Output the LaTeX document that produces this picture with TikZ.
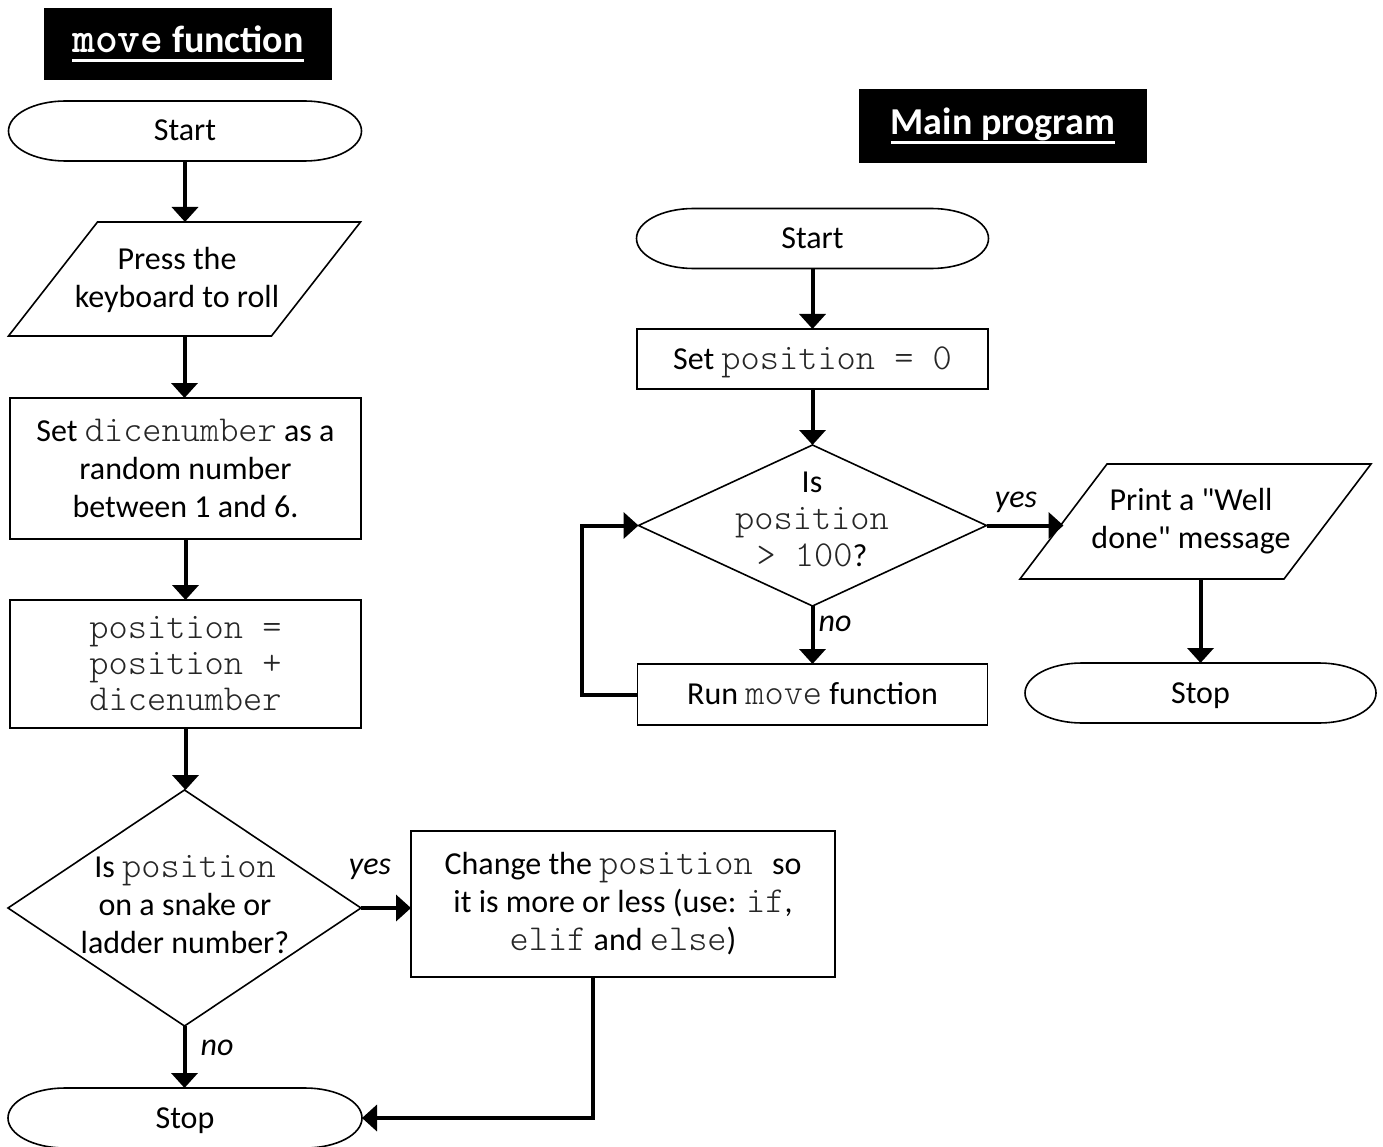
\documentclass[tikz,border=0pt]{standalone}
\usepackage{fontspec}
\setmainfont{Carlito}[Ligatures=TeXOff]
\setmonofont{lmmonolt10-regular.otf}[Scale=1.143, BoldFont=lmmonolt10-bold.otf]
\usetikzlibrary{arrows.meta,shapes.geometric}
\newcommand\myul[1]{\setbox0=\hbox{#1}\rlap{\rule[-9pt]{\wd0}{2.8pt}}\box0}
\newcommand\mono[1]{{\ttfamily\color{black!85}#1}}
\newcommand\drawterm[1]{\draw[outline] ([xshift=57pt]#1.north west) -- ([xshift=-57pt]#1.north east) arc[start angle=90,end angle=-90,x radius=57pt,y radius=30pt] -- ([xshift=57pt]#1.south west) arc[start angle=270,end angle=90,x radius=57pt,y radius=30pt] -- cycle;}
\newcommand\drawpara[2]{\draw[outline] ([xshift=#2]#1.north west) -- ([xshift=#2]#1.north east) -- ([xshift=-#2]#1.south east) -- ([xshift=-#2]#1.south west) -- cycle;}
\begin{document}
\begin{tikzpicture}[x=1pt,y=-1pt,
 outline/.style={line width=1.6pt, line join=miter},
 txt/.style={font=\fontsize{32}{38}\selectfont, inner sep=0pt, align=center},
 one/.style={text height=20pt, text depth=0pt},
 frame/.style={txt, draw, outline, outer sep=0pt},
 ghost/.style={txt, outer sep=0pt},
 diam/.style={diamond, draw, outline, inner sep=0pt, outer sep=0pt},
 title/.style={fill=black, text=white, inner sep=0pt, outer sep=0pt, font=\fontsize{38}{42}\selectfont\bfseries},
 conn/.style={line width=4pt, -{Triangle[length=15pt,width=26pt]}},
 lbl/.style={font=\fontsize{32}{38}\selectfont\itshape, inner sep=0pt}]
\useasboundingbox (0,0) rectangle (1383,1147);
% ---------- move function ----------
\node[title, minimum width=288pt, minimum height=72pt] (t1) at (188,44) {\myul{{\ttfamily move} function}};
\node[ghost, one, minimum width=353pt, minimum height=60pt] (s1) at (185,131) {Start};
\drawterm{s1}
\node[ghost, minimum width=263pt, minimum height=114pt] (p1) at (184.5,279) {};
\drawpara{p1}{44.5pt}
\node[txt] (p1t) at (177,280) {Press the\\keyboard to roll};
\node[frame, minimum width=351pt, minimum height=141pt] (b1) at (185.5,468.5) {Set \mono{dicenumber} as a\\random number\\between 1 and 6.};
\node[frame, minimum width=351pt, minimum height=128pt, font=\fontsize{32}{36}\selectfont\ttfamily\color{black!85}] (b2) at (185.5,664) {position =\\position +\\dicenumber};
\node[diam, minimum width=353pt, minimum height=236pt] (d1) at (184.5,908) {};
\node[txt] (d1t) at (185,905) {Is \mono{position}\\on a snake or\\ladder number?};
\node[frame, minimum width=424pt, minimum height=146pt] (chg) at (623,904) {Change the \mono{ position }so\\it is more or less (use: \mono{ if},\\\mono{elif} and \mono{else})};
\node[ghost, one, minimum width=354pt, minimum height=60pt] (stop1) at (185,1118) {Stop};
\drawterm{stop1}
\node[lbl] (yes1) at (370,869) {yes};
\node[lbl] (no1) at (217,1048) {no};
\draw[conn] (s1.south) -- (s1.south |- p1.north);
\draw[conn] (p1.south) -- (p1.south |- b1.north);
\draw[conn] (b1.south) -- (b1.south |- b2.north);
\draw[conn] (b2.south) -- (b2.south |- d1.north);
\draw[conn] (d1.east) -- (chg.west |- d1.east);
\draw[conn] (d1.south) -- (d1.south |- stop1.north);
\draw[conn] ([xshift=-30pt]chg.south) |- (stop1.east);
% ---------- main program ----------
\node[title, minimum width=288pt, minimum height=74pt] (t2) at (1003,126) {\myul{Main program}};
\node[ghost, one, minimum width=352pt, minimum height=60pt] (s2) at (812.5,238.5) {Start};
\drawterm{s2}
\node[frame, one, minimum width=351pt, minimum height=60pt] (b3) at (812.5,359) {Set \mono{position = 0}};
\node[diam, minimum width=348pt, minimum height=161pt] (d2) at (812.5,525.5) {};
\node[txt, font=\fontsize{32}{37}\selectfont] (d2t) at (812,519) {Is\\\mono{position}\\\mono{> 100}?};
\node[frame, one, minimum width=350pt, minimum height=61pt] (run) at (812.5,694.5) {Run \mono{move} function};
\node[ghost, minimum width=264pt, minimum height=115pt] (p2) at (1195.5,521.5) {};
\drawpara{p2}{43.5pt}
\node[txt] (p2t) at (1191,521) {Print a "Well\\done" message};
\node[ghost, one, minimum width=351pt, minimum height=60pt] (stop2) at (1200.5,693) {Stop};
\drawterm{stop2}
\node[lbl] (yes2) at (1016,502) {yes};
\node[lbl] (no2) at (835,624) {no};
\draw[conn] (s2.south) -- (b3.north);
\draw[conn] (b3.south) -- (d2.north);
\draw[conn] (d2.south) -- (run.north);
\draw[conn] (d2.east) -- (p2.west |- d2.east);
\draw[conn] (run.west) -- ++(-56,0) |- (d2.west);
\draw[conn] (p2.south -| stop2.north) -- (stop2.north);
\end{tikzpicture}
\end{document}
